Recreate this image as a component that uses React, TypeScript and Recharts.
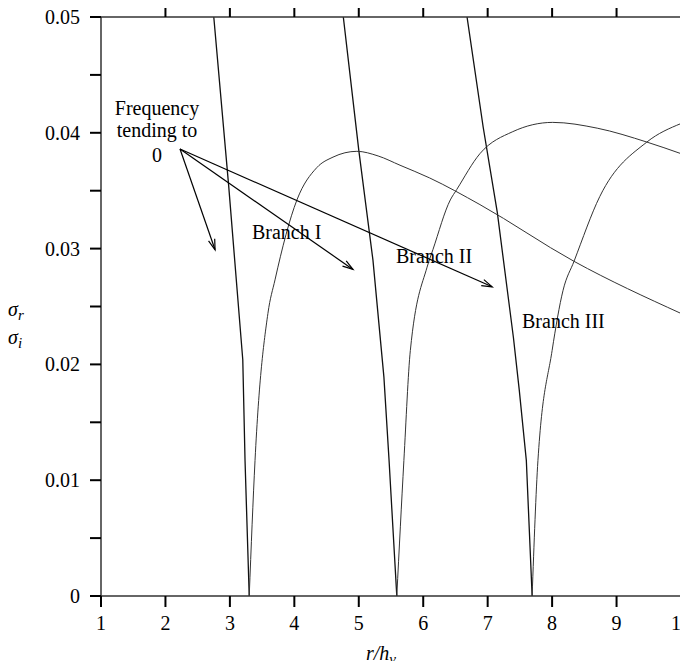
import { LineChart, Line, XAxis, YAxis, ReferenceLine, ReferenceDot, Label } from 'recharts'

const serif = '"Liberation Serif", "Times New Roman", serif'

const xTicks = [1, 2, 3, 4, 5, 6, 7, 8, 9, 10]
const topTicks = [2, 3, 4, 5, 6, 7, 8, 9]
const yTicks = [0, 0.005, 0.01, 0.015, 0.02, 0.025, 0.03, 0.035, 0.04, 0.045, 0.05]

// steep falling curves, one per branch
const steep1 = [[2.75, 0.05], [2.98, 0.0355], [3.2, 0.0204], [3.235, 0.0117], [3.3, 0]]
const steep2 = [[4.76, 0.05], [5.0, 0.0385], [5.22, 0.029], [5.39, 0.0189], [5.47, 0.0117], [5.59, 0]]
const steep3 = [[6.68, 0.05], [6.93, 0.0405], [7.15, 0.0331], [7.4, 0.0223], [7.49, 0.0178], [7.6, 0.0117], [7.69, 0]]

// rising / hump curves
const hump1 = [
  [3.3, 0], [3.39, 0.0117], [3.59, 0.0244], [3.7, 0.0273], [4.04, 0.0342], [4.35, 0.037],
  [4.6, 0.0379], [4.97, 0.0384], [5.3, 0.038], [5.64, 0.0372], [6.1, 0.0361], [6.88, 0.0338],
  [8.34, 0.0289], [10, 0.0244],
]
const hump2 = [
  [5.59, 0], [5.7, 0.0117], [5.8, 0.0212], [6.06, 0.0284], [6.15, 0.0299], [6.42, 0.0342],
  [6.52, 0.0351], [6.88, 0.0382], [7.39, 0.0401], [8.01, 0.0409], [8.7, 0.0404], [9.47, 0.0392], [10, 0.0382],
]
const hump3 = [
  [7.69, 0], [7.78, 0.0117], [8.0, 0.0212], [8.17, 0.0264], [8.34, 0.0289], [8.74, 0.0345],
  [9.47, 0.0392], [10, 0.0408],
]

const arrowFrom = [2.226, 0.0386]
const arrowTips = [[2.77, 0.0299], [4.91, 0.0282], [7.07, 0.0267]]

const notes = [
  { x: 1.869, y: 0.04154, text: 'Frequency', anchor: 'middle' },
  { x: 1.869, y: 0.03964, text: 'tending to', anchor: 'middle' },
  { x: 1.869, y: 0.03748, text: '0', anchor: 'middle' },
  { x: 3.343, y: 0.03083, text: 'Branch I', anchor: 'start' },
  { x: 5.578, y: 0.02876, text: 'Branch II', anchor: 'start' },
  { x: 7.533, y: 0.02314, text: 'Branch III', anchor: 'start' },
]

const pts = (arr: number[][]) => arr.map(([x, y]) => ({ x, y }))

const fmtY = (v: number) => {
  const k = Math.round(v * 1000)
  if (k % 10 !== 0) return ''
  return k === 0 ? '0' : v.toFixed(2)
}

const frame = { stroke: '#333', strokeWidth: 1.5 }
const tickLn = { stroke: '#000', strokeWidth: 2 }

const XTick = ({ x, y, payload }: any) => (
  <text x={x} y={y} dy="0.71em" textAnchor="middle" fontFamily={serif} fontSize={20} fill="#000">
    {payload.value}
  </text>
)

const YTick = ({ x, y, payload }: any) => (
  <text x={x} y={y} dy="0.35em" textAnchor="end" fontFamily={serif} fontSize={20} fill="#000">
    {fmtY(payload.value)}
  </text>
)

const Arrow = (p: any) => {
  const { x1, y1, x2, y2 } = p
  const a = Math.atan2(y2 - y1, x2 - x1)
  const len = 11
  const w = 0.3
  const ax = x2 - len * Math.cos(a - w)
  const ay = y2 - len * Math.sin(a - w)
  const bx = x2 - len * Math.cos(a + w)
  const by = y2 - len * Math.sin(a + w)
  return (
    <g>
      <line x1={x1} y1={y1} x2={x2} y2={y2} stroke="#000" strokeWidth={1.2} />
      <polyline points={`${ax},${ay} ${x2},${y2} ${bx},${by}`} fill="none" stroke="#000" strokeWidth={1.2} />
    </g>
  )
}

export default function App() {
  const series = [
    { d: steep1, c: '#111', w: 1.3, t: 'linear' },
    { d: steep2, c: '#111', w: 1.3, t: 'linear' },
    { d: steep3, c: '#111', w: 1.3, t: 'linear' },
    { d: hump1, c: '#333', w: 1, t: 'monotone' },
    { d: hump2, c: '#333', w: 1, t: 'monotone' },
    { d: hump3, c: '#333', w: 1, t: 'monotone' },
  ]
  return (
    <div style={{ margin: -8, width: 688, height: 669, background: '#fff', fontFamily: serif }}>
      <LineChart width={688} height={669} margin={{ top: 0, right: 0, bottom: 0, left: 0 }}>
        <XAxis
          xAxisId={0}
          type="number"
          dataKey="x"
          domain={[1, 10]}
          ticks={xTicks}
          interval={0}
          allowDataOverflow
          height={73}
          tickSize={11}
          tickMargin={9}
          axisLine={frame}
          tickLine={tickLn}
          tick={XTick}
        >
          <Label
            content={({ viewBox }: any) => (
              <text
                x={viewBox.x + viewBox.width / 2 - 10}
                y={viewBox.y + 64}
                textAnchor="middle"
                fontFamily={serif}
                fontStyle="italic"
                fontSize={20}
              >
                r/h<tspan dy={4} fontSize={15}>v</tspan>
              </text>
            )}
          />
        </XAxis>
        <XAxis
          xAxisId="top"
          orientation="top"
          type="number"
          dataKey="x"
          domain={[1, 10]}
          ticks={topTicks}
          interval={0}
          allowDataOverflow
          height={17}
          tickSize={12}
          tickFormatter={() => ''}
          axisLine={frame}
          tickLine={tickLn}
        />
        <YAxis
          yAxisId={0}
          type="number"
          domain={[0, 0.05]}
          ticks={yTicks}
          interval={0}
          allowDataOverflow
          width={101}
          tickSize={11}
          tickMargin={10}
          axisLine={frame}
          tickLine={tickLn}
          tick={YTick}
        >
          <Label
            content={({ viewBox }: any) => (
              <g fontFamily={serif} fontStyle="italic" fontSize={20}>
                <text x={8} y={viewBox.y + 299}>
                  σ<tspan dy={4} fontSize={15}>r</tspan>
                </text>
                <text x={8} y={viewBox.y + 327}>
                  σ<tspan dy={4} fontSize={15}>i</tspan>
                </text>
              </g>
            )}
          />
        </YAxis>
        <YAxis
          yAxisId="right"
          orientation="right"
          type="number"
          domain={[0, 0.05]}
          ticks={yTicks}
          interval={0}
          allowDataOverflow
          width={7}
          tickSize={7}
          tickFormatter={() => ''}
          axisLine={frame}
          tickLine={tickLn}
        />
        {series.map((s, i) => (
          <Line
            key={i}
            data={pts(s.d)}
            dataKey="y"
            type={s.t as any}
            stroke={s.c}
            strokeWidth={s.w}
            dot={false}
            activeDot={false}
            isAnimationActive={false}
          />
        ))}
        {arrowTips.map((t, i) => (
          <ReferenceLine
            key={'a' + i}
            segment={[{ x: arrowFrom[0], y: arrowFrom[1] }, { x: t[0], y: t[1] }]}
            shape={Arrow}
          />
        ))}
        {notes.map((n, i) => (
          <ReferenceDot
            key={'n' + i}
            x={n.x}
            y={n.y}
            shape={(p: any) => (
              <text x={p.cx} y={p.cy} textAnchor={n.anchor} fontFamily={serif} fontSize={20} fill="#000">
                {n.text}
              </text>
            )}
          />
        ))}
      </LineChart>
    </div>
  )
}
